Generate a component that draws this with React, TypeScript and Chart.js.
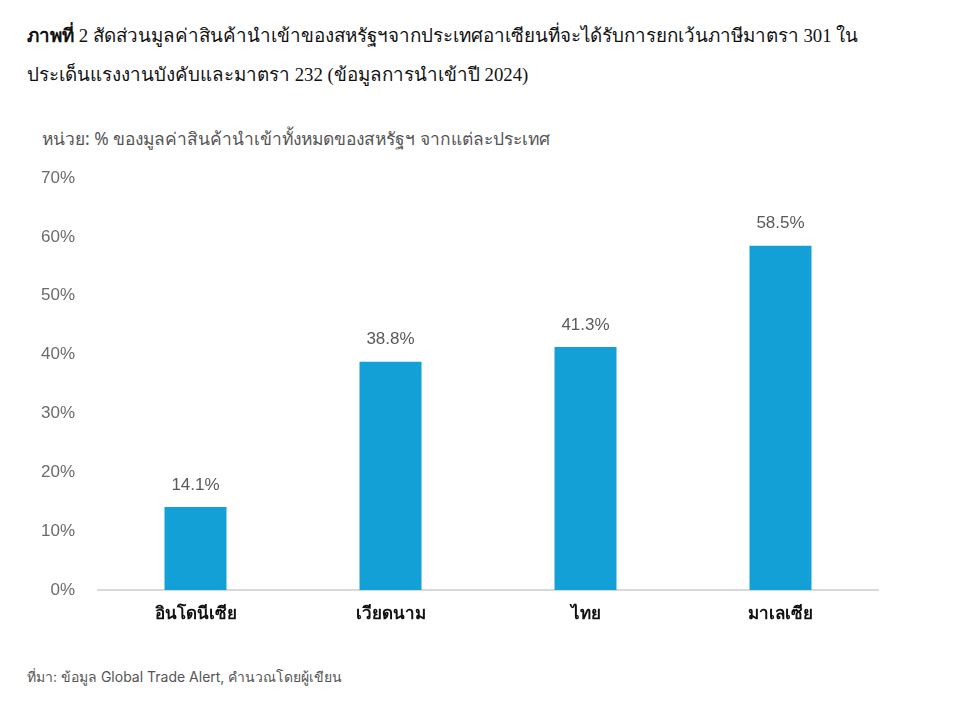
import React, { useEffect, useRef } from "react";
import { Chart, registerables } from "chart.js";

Chart.register(...registerables);

const categories = ["อินโดนีเซีย", "เวียดนาม", "ไทย", "มาเลเซีย"];
const values = [14.1, 38.8, 41.3, 58.5];
const yTicks = [0, 10, 20, 30, 40, 50, 60, 70];
const titleBold = "ภาพที่";
const titleLine1 = " 2 สัดส่วนมูลค่าสินค้านำเข้าของสหรัฐฯจากประเทศอาเซียนที่จะได้รับการยกเว้นภาษีมาตรา 301 ใน";
const titleLine2 = "ประเด็นแรงงานบังคับและมาตรา 232 (ข้อมูลการนำเข้าปี 2024)";
const unitText = "หน่วย: % ของมูลค่าสินค้านำเข้าทั้งหมดของสหรัฐฯ จากแต่ละประเทศ";
const sourceText = "ที่มา: ข้อมูล Global Trade Alert, คำนวณโดยผู้เขียน";

const labelPlugin = {
  id: "barLabels",
  afterDatasetsDraw(chart: any) {
    const ctx = chart.ctx;
    const meta = chart.getDatasetMeta(0);
    ctx.save();
    ctx.font = "17px 'Liberation Sans', Arial, sans-serif";
    ctx.fillStyle = "#5a5a5a";
    ctx.textAlign = "center";
    ctx.textBaseline = "middle";
    meta.data.forEach((bar: any, i: number) => {
      ctx.fillText(values[i].toFixed(1) + "%", bar.x, bar.y - 22);
    });
    ctx.restore();
  },
};

export default function App() {
  const ref = useRef<HTMLCanvasElement>(null);
  useEffect(() => {
    if (!ref.current) return;
    const chart = new Chart(ref.current, {
      type: "bar",
      data: {
        labels: categories,
        datasets: [
          {
            data: values,
            backgroundColor: "#12A0D6",
            categoryPercentage: 1,
            barPercentage: 0.318,
          },
        ],
      },
      options: {
        animation: false,
        responsive: false,
        maintainAspectRatio: false,
        layout: { padding: { top: 78, right: 82, left: 0, bottom: 0 } },
        plugins: { legend: { display: false }, tooltip: { enabled: false } },
        scales: {
          x: {
            grid: { display: false, drawTicks: false },
            border: { display: true, color: "#d9d9d9", width: 2 },
            ticks: {
              padding: 14,
              color: "#111",
              font: { size: 17, weight: "bold", family: "'Noto Sans', sans-serif" },
            },
            afterFit: (s: any) => {
              s.height = 60;
            },
          },
          y: {
            min: 0,
            max: 70,
            grid: { display: false, drawTicks: false },
            border: { display: false },
            afterBuildTicks: (s: any) => {
              s.ticks = yTicks.map((v) => ({ value: v }));
            },
            ticks: {
              padding: 23,
              color: "#6b6b6b",
              font: { size: 17, family: "'Liberation Sans', Arial, sans-serif" },
              callback: (v: any) => v + "%",
            },
            afterFit: (s: any) => {
              s.width = 98;
            },
          },
        },
      },
      plugins: [labelPlugin],
    });
    return () => chart.destroy();
  }, []);

  return (
    <div style={{ position: "absolute", left: 0, top: 0, width: 960, height: 701, background: "#fff" }}>
      <div
        style={{
          position: "absolute",
          left: 27,
          top: 16,
          width: 920,
          fontFamily: "'Liberation Serif', 'Noto Serif', serif",
          fontSize: 18.8,
          lineHeight: "39px",
          color: "#111",
          whiteSpace: "nowrap",
        }}
      >
        <div>
          <b>{titleBold}</b>
          {titleLine1}
        </div>
        <div>{titleLine2}</div>
      </div>
      <div
        style={{
          position: "absolute",
          left: 42,
          top: 125,
          fontFamily: "'Noto Sans', sans-serif",
          fontSize: 17.4,
          color: "#555",
          whiteSpace: "nowrap",
        }}
      >
        {unitText}
      </div>
      <canvas
        ref={ref}
        width={960}
        height={550}
        style={{ position: "absolute", left: 0, top: 100, width: 960, height: 550 }}
      />
      <div
        style={{
          position: "absolute",
          left: 27,
          top: 666,
          fontFamily: "Inter, 'Noto Sans', sans-serif",
          fontSize: 14,
          color: "#555",
          whiteSpace: "nowrap",
        }}
      >
        {sourceText}
      </div>
    </div>
  );
}
